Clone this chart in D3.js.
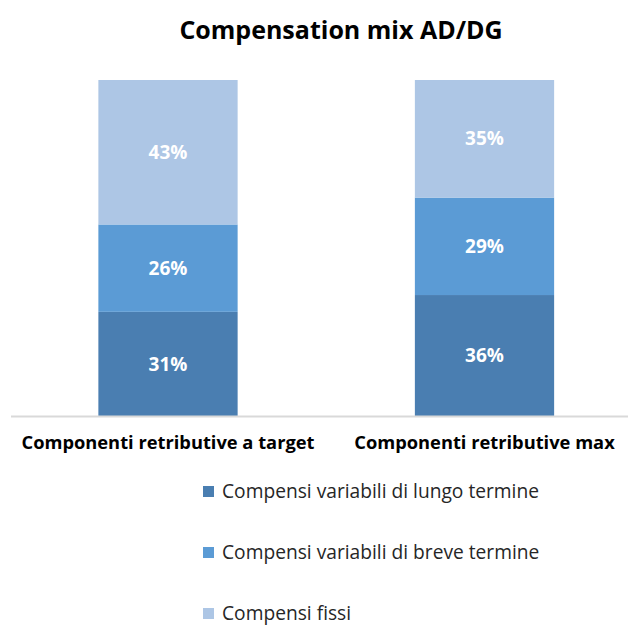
<!DOCTYPE html>
<html>
<head>
<meta charset="utf-8">
<script src="https://cdn.jsdelivr.net/npm/d3@7"></script>
<style>
  body { margin: 0; background: #fff; }
  svg { display: block; font-family: "Open Sans", sans-serif; }
</style>
</head>
<body>
<div id="chart"></div>
<script>
const categories = ["Componenti retributive a target", "Componenti retributive max"];
const seriesNames = ["Compensi variabili di lungo termine", "Compensi variabili di breve termine", "Compensi fissi"];
const lungoTermine = [31, 36];
const breveTermine = [26, 29];
const fissi = [43, 35];
const colors = ["#4a7eb1", "#5b9bd5", "#adc6e5"];

function renderChart() {
    const width = 628;
    const height = 625;
    const svg = d3.select("#chart").append("svg").attr("width", width).attr("height", height);

    const rows = categories.map((c, i) => ({
        cat: c,
        lungo: lungoTermine[i],
        breve: breveTermine[i],
        fissi: fissi[i]
    }));
    const keys = ["lungo", "breve", "fissi"];
    const stacked = d3.stack().keys(keys)(rows);

    const x = d3.scaleBand().domain(categories).range([9.75, 642.75]).paddingInner(0.56).paddingOuter(0.28);
    const y = d3.scaleLinear().domain([0, 100]).range([416, 80]);

    // title
    svg.append("text")
        .attr("x", 341).attr("y", 39)
        .attr("text-anchor", "middle")
        .attr("font-size", 25).attr("font-weight", "bold")
        .attr("fill", "#000")
        .text("Compensation mix AD/DG");

    // bars
    const layers = svg.append("g").selectAll("g")
        .data(stacked)
        .enter().append("g")
        .attr("fill", (d, i) => colors[i]);

    layers.selectAll("rect")
        .data(d => d)
        .enter().append("rect")
        .attr("x", d => x(d.data.cat))
        .attr("y", d => y(d[1]))
        .attr("width", x.bandwidth())
        .attr("height", d => y(d[0]) - y(d[1]));

    layers.selectAll("text")
        .data(d => d)
        .enter().append("text")
        .attr("x", d => x(d.data.cat) + x.bandwidth() / 2)
        .attr("y", d => (y(d[0]) + y(d[1])) / 2)
        .attr("dy", "0.35em")
        .attr("text-anchor", "middle")
        .attr("font-size", 19).attr("font-weight", "bold")
        .attr("fill", "#fff")
        .text(d => (d[1] - d[0]) + "%");

    // x axis
    const xAxis = svg.append("g")
        .attr("transform", "translate(0,416)")
        .call(d3.axisBottom(x).tickSize(0).tickPadding(20));
    xAxis.select(".domain").attr("d", "M11,0.5H628").attr("stroke", "#d9d9d9").attr("stroke-width", 2);
    xAxis.selectAll(".tick text")
        .attr("font-family", "'Open Sans', sans-serif")
        .attr("font-size", 18.3).attr("font-weight", "bold")
        .attr("fill", "#000");

    // legend
    const legend = svg.append("g").selectAll("g")
        .data(seriesNames)
        .enter().append("g")
        .attr("transform", (d, i) => `translate(203,${491 + i * 61})`);
    legend.append("rect")
        .attr("x", 0).attr("y", -5)
        .attr("width", 11).attr("height", 11)
        .attr("fill", (d, i) => colors[i]);
    legend.append("text")
        .attr("x", 19).attr("y", 0)
        .attr("dy", "0.35em")
        .attr("font-size", 19.2)
        .attr("fill", "#262626")
        .text(d => d);
}

renderChart();
</script>
</body>
</html>
